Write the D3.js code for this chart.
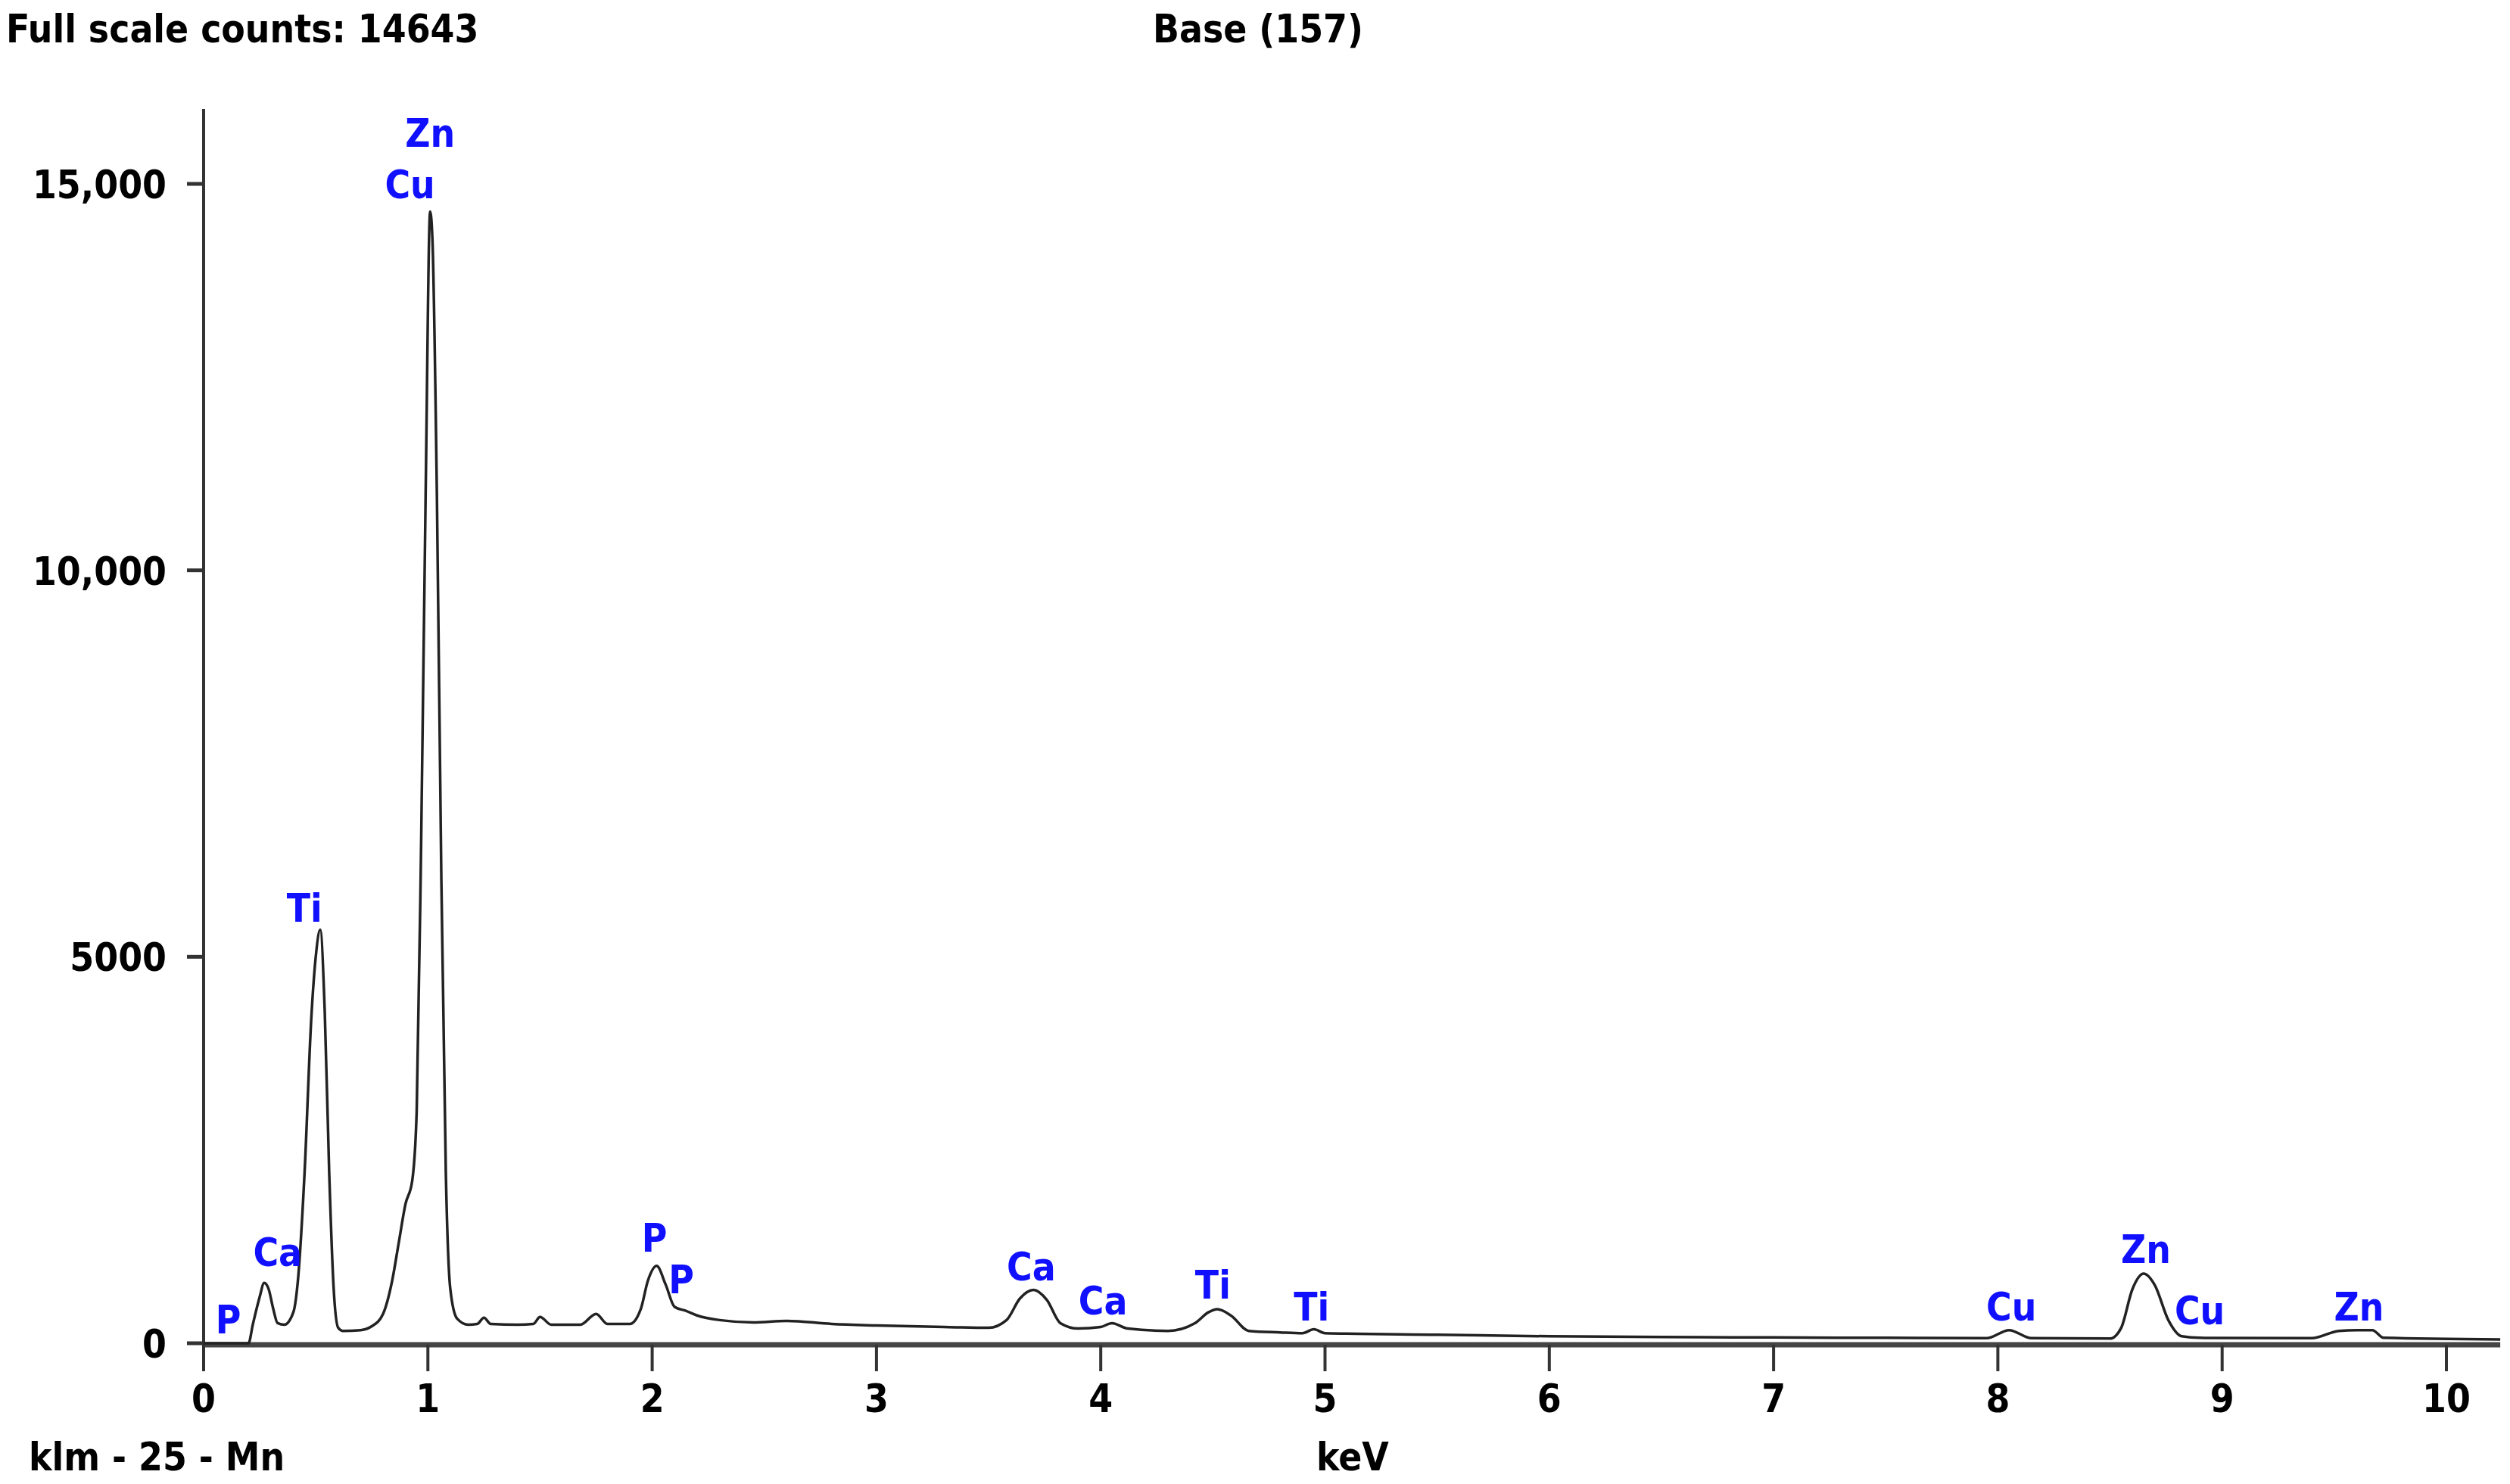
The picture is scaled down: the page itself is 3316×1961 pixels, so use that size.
<!DOCTYPE html>
<html>
<head>
<meta charset="utf-8">
<script src="https://cdn.jsdelivr.net/npm/d3@7"></script>
<style>
  body { margin: 0; background: #fff; }
  text { font-family: "DejaVu Sans Condensed", "DejaVu Sans", sans-serif; font-weight: bold; }
</style>
</head>
<body>
<svg id="chart" width="3316" height="1961"></svg>
<script>
// spectrum: energy (keV) and counts
const energy = [0, 0.2, 0.22, 0.25, 0.27, 0.29, 0.31, 0.33, 0.36, 0.4, 0.42, 0.45, 0.48, 0.5, 0.52, 0.54, 0.56, 0.58, 0.6, 0.62,
  0.7, 0.75, 0.8, 0.84, 0.87, 0.9, 0.93, 0.95, 0.97, 0.99, 1.01, 1.02, 1.04, 1.06, 1.08, 1.1, 1.13, 1.18, 1.22, 1.25, 1.28,
  1.4, 1.47, 1.5, 1.55, 1.68, 1.75, 1.8, 1.9, 1.95, 1.98, 2.02, 2.06, 2.1, 2.15, 2.2, 2.3, 2.45, 2.6, 2.8, 3.0, 3.3, 3.5,
  3.58, 3.64, 3.7, 3.76, 3.82, 3.9, 4.0, 4.05, 4.12, 4.3, 4.42, 4.48, 4.52, 4.58, 4.66, 4.8, 4.9, 4.95, 5.0, 5.5, 6.0,
  6.5, 7.0, 7.5, 7.95, 8.05, 8.15, 8.5, 8.55, 8.6, 8.65, 8.7, 8.76, 8.82, 8.9, 9.4, 9.52, 9.6, 9.67, 9.72, 10.24];
const counts = [0, 0, 250, 600, 780, 700, 450, 260, 240, 400, 800, 2200, 4200, 5000, 5350, 4300, 2200, 700, 200, 160,
  170, 220, 380, 800, 1300, 1800, 2100, 3000, 6500, 11000, 14643, 14300, 11000, 6000, 2200, 700, 320, 240, 250, 330, 250,
  240, 250, 340, 240, 240, 380, 250, 250, 450, 800, 1000, 760, 470, 420, 360, 300, 270, 290, 250, 230, 210, 200,
  300, 580, 690, 560, 260, 190, 210, 260, 190, 160, 260, 400, 440, 360, 160, 140, 130, 180, 130, 110, 90,
  80, 75, 70, 65, 170, 65, 60, 200, 700, 900, 750, 300, 90, 70, 65, 160, 170, 170, 70, 50];

// element labels: name, keV, counts (position of the label centre)
const labelNames = ["P", "Ca", "Ti", "Cu", "Zn", "P", "P", "Ca", "Ca", "Ti", "Ti", "Cu", "Zn", "Cu", "Zn"];
const labelKeV = [0.11, 0.33, 0.45, 0.92, 1.01, 2.01, 2.13, 3.69, 4.01, 4.5, 4.94, 8.06, 8.66, 8.9, 9.61];
const labelCounts = [311, 1181, 5636, 14999, 15662, 1367, 829, 995, 560, 767, 477, 477, 1222, 435, 477];

const xTicks = [0, 1, 2, 3, 4, 5, 6, 7, 8, 9, 10];
const yTicks = [0, 5000, 10000, 15000];
const yTickLabels = ["0", "5000", "10,000", "15,000"];

const svg = d3.select("#chart");
const x = d3.scaleLinear().domain([0, 10]).range([269, 3232]);
const y = d3.scaleLinear().domain([0, 15000]).range([1775, 243]);
const fs = 51;

// axes
svg.append("line").attr("x1", x(0)).attr("x2", x(0)).attr("y1", 144).attr("y2", 1775)
  .attr("stroke", "#333").attr("stroke-width", 4);
svg.append("line").attr("x1", x(0)).attr("x2", x(10.24)).attr("y1", 1777).attr("y2", 1777)
  .attr("stroke", "#444").attr("stroke-width", 7);

svg.selectAll(".xt").data(xTicks).join("line")
  .attr("x1", d => x(d)).attr("x2", d => x(d)).attr("y1", 1777).attr("y2", 1812)
  .attr("stroke", "#333").attr("stroke-width", 4);
svg.selectAll(".xl").data(xTicks).join("text")
  .attr("x", d => x(d)).attr("y", 1866).attr("text-anchor", "middle")
  .attr("font-size", fs).text(d => d);

svg.selectAll(".yt").data(yTicks).join("line")
  .attr("x1", x(0) - 22).attr("x2", x(0)).attr("y1", d => y(d)).attr("y2", d => y(d))
  .attr("stroke", "#333").attr("stroke-width", 5);
svg.selectAll(".yl").data(yTicks).join("text")
  .attr("x", 220).attr("y", d => y(d) + 19).attr("text-anchor", "end")
  .attr("font-size", fs).text((d, i) => yTickLabels[i]);

// spectrum
const line = d3.line().x(d => x(d[0])).y(d => y(d[1])).curve(d3.curveMonotoneX);
svg.append("path").datum(energy.map((e, i) => [e, counts[i]]))
  .attr("d", line).attr("fill", "none").attr("stroke", "#222").attr("stroke-width", 3.5);

// element labels
svg.selectAll(".el").data(labelNames).join("text")
  .attr("x", (d, i) => x(labelKeV[i])).attr("y", (d, i) => y(labelCounts[i]) + 19)
  .attr("text-anchor", "middle").attr("font-size", fs).attr("fill", "#1010ff").text(d => d);

// header and footer texts
svg.append("text").attr("x", 8).attr("y", 56).attr("font-size", fs).text("Full scale counts: 14643");
svg.append("text").attr("x", 1662).attr("y", 56).attr("text-anchor", "middle").attr("font-size", fs).text("Base (157)");
svg.append("text").attr("x", 38).attr("y", 1943).attr("font-size", fs).text("klm - 25 - Mn");
svg.append("text").attr("x", 1787).attr("y", 1943).attr("text-anchor", "middle").attr("font-size", fs).text("keV");
</script>
</body>
</html>
